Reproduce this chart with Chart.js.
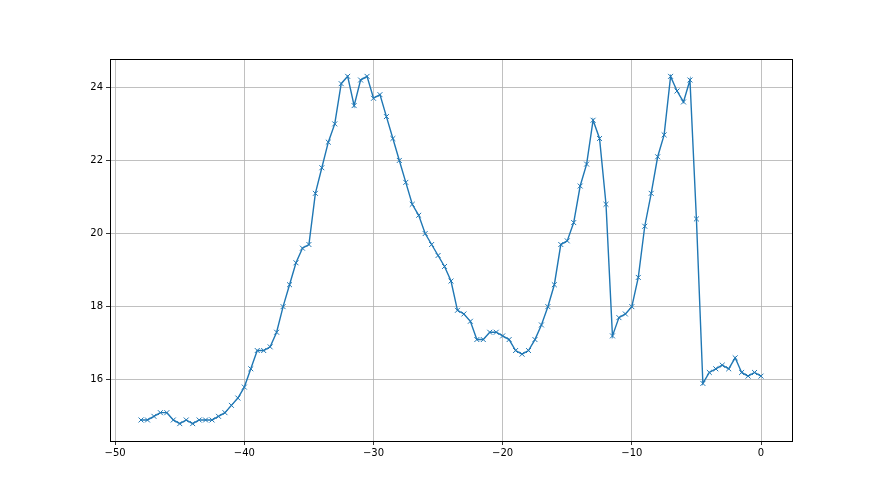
<!DOCTYPE html>
<html>
<head>
<meta charset="utf-8">
<script src="https://cdn.jsdelivr.net/npm/chart.js@4.4.0/dist/chart.umd.min.js"></script>
<style>
  body { margin: 0; background: #fff; }
  canvas { display: block; }
</style>
</head>
<body>
<canvas id="lineChart" width="880" height="495"></canvas>
<script>
// x positions (step of half a unit) and the measured values
const xValues = [
    -48, -47.5, -47, -46.5, -46, -45.5, -45, -44.5, -44, -43.5,
    -43, -42.5, -42, -41.5, -41, -40.5, -40, -39.5, -39, -38.5,
    -38, -37.5, -37, -36.5, -36, -35.5, -35, -34.5, -34, -33.5,
    -33, -32.5, -32, -31.5, -31, -30.5, -30, -29.5, -29, -28.5,
    -28, -27.5, -27, -26.5, -26, -25.5, -25, -24.5, -24, -23.5,
    -23, -22.5, -22, -21.5, -21, -20.5, -20, -19.5, -19, -18.5,
    -18, -17.5, -17, -16.5, -16, -15.5, -15, -14.5, -14, -13.5,
    -13, -12.5, -12, -11.5, -11, -10.5, -10, -9.5, -9, -8.5,
    -8, -7.5, -7, -6.5, -6, -5.5, -5, -4.5, -4, -3.5,
    -3, -2.5, -2, -1.5, -1, -0.5, 0,
];
const yValues = [
    14.9, 14.9, 15.0, 15.1, 15.1, 14.9, 14.8, 14.9, 14.8, 14.9,
    14.9, 14.9, 15.0, 15.1, 15.3, 15.5, 15.8, 16.3, 16.8, 16.8,
    16.9, 17.3, 18.0, 18.6, 19.2, 19.6, 19.7, 21.1, 21.8, 22.5,
    23.0, 24.1, 24.3, 23.5, 24.2, 24.3, 23.7, 23.8, 23.2, 22.6,
    22.0, 21.4, 20.8, 20.5, 20.0, 19.7, 19.4, 19.1, 18.7, 17.9,
    17.8, 17.6, 17.1, 17.1, 17.3, 17.3, 17.2, 17.1, 16.8, 16.7,
    16.8, 17.1, 17.5, 18.0, 18.6, 19.7, 19.8, 20.3, 21.3, 21.9,
    23.1, 22.6, 20.8, 17.2, 17.7, 17.8, 18.0, 18.8, 20.2, 21.1,
    22.1, 22.7, 24.3, 23.9, 23.6, 24.2, 20.4, 15.9, 16.2, 16.3,
    16.4, 16.3, 16.6, 16.2, 16.1, 16.2, 16.1,
];
const xTicks = [-50, -40, -30, -20, -10, 0];
const yTicks = [16, 18, 20, 22, 24];

const points = xValues.map((x, i) => ({ x: x, y: yValues[i] }));
const minus = (v) => String(v).replace("-", "\u2212");

const frame = {
    id: "frame",
    afterDatasetsDraw(chart) {
        const a = chart.chartArea;
        const c = chart.ctx;
        c.save();
        c.strokeStyle = "#000";
        c.lineWidth = 1;
        c.strokeRect(Math.round(a.left) + 0.5, Math.round(a.top) + 0.5,
            Math.round(a.right - a.left), Math.round(a.bottom - a.top));
        c.restore();
    },
};

const ctx = document.querySelector("#lineChart").getContext("2d");
const chart = new Chart(ctx, {
    type: "line",
    data: {
        datasets: [
            {
                data: points,
                borderColor: "#1f77b4",
                backgroundColor: "#1f77b4",
                borderWidth: 1.4,
                pointStyle: "crossRot",
                pointRadius: 3.5,
                pointBorderWidth: 1,
                pointBorderColor: "#1f77b4",
                tension: 0,
                fill: false,
            },
        ],
    },
    options: {
        responsive: false,
        animation: false,
        layout: { padding: { top: 59, right: 88, left: 0, bottom: 0 } },
        plugins: { legend: { display: false }, tooltip: { enabled: false } },
        scales: {
            x: {
                type: "linear",
                min: -50.4,
                max: 2.4,
                border: { display: false },
                grid: { color: "#b0b0b0", lineWidth: 0.8, tickColor: "#000", tickLength: 4 },
                ticks: {
                    color: "#000",
                    padding: 2,
                    maxRotation: 0,
                    font: { family: "DejaVu Sans", size: 10 },
                    callback: (v) => minus(v),
                },
                afterBuildTicks: (s) => { s.ticks = xTicks.map((v) => ({ value: v })); },
                afterFit: (s) => { s.height = 54; },
            },
            y: {
                min: 14.325,
                max: 24.775,
                border: { display: false },
                grid: { color: "#b0b0b0", lineWidth: 0.8, tickColor: "#000", tickLength: 4 },
                ticks: {
                    color: "#000",
                    padding: 3,
                    font: { family: "DejaVu Sans", size: 10 },
                    callback: (v) => minus(v),
                },
                afterBuildTicks: (s) => { s.ticks = yTicks.map((v) => ({ value: v })); },
                afterFit: (s) => { s.width = 110; },
            },
        },
    },
    plugins: [frame],
});
</script>
</body>
</html>
